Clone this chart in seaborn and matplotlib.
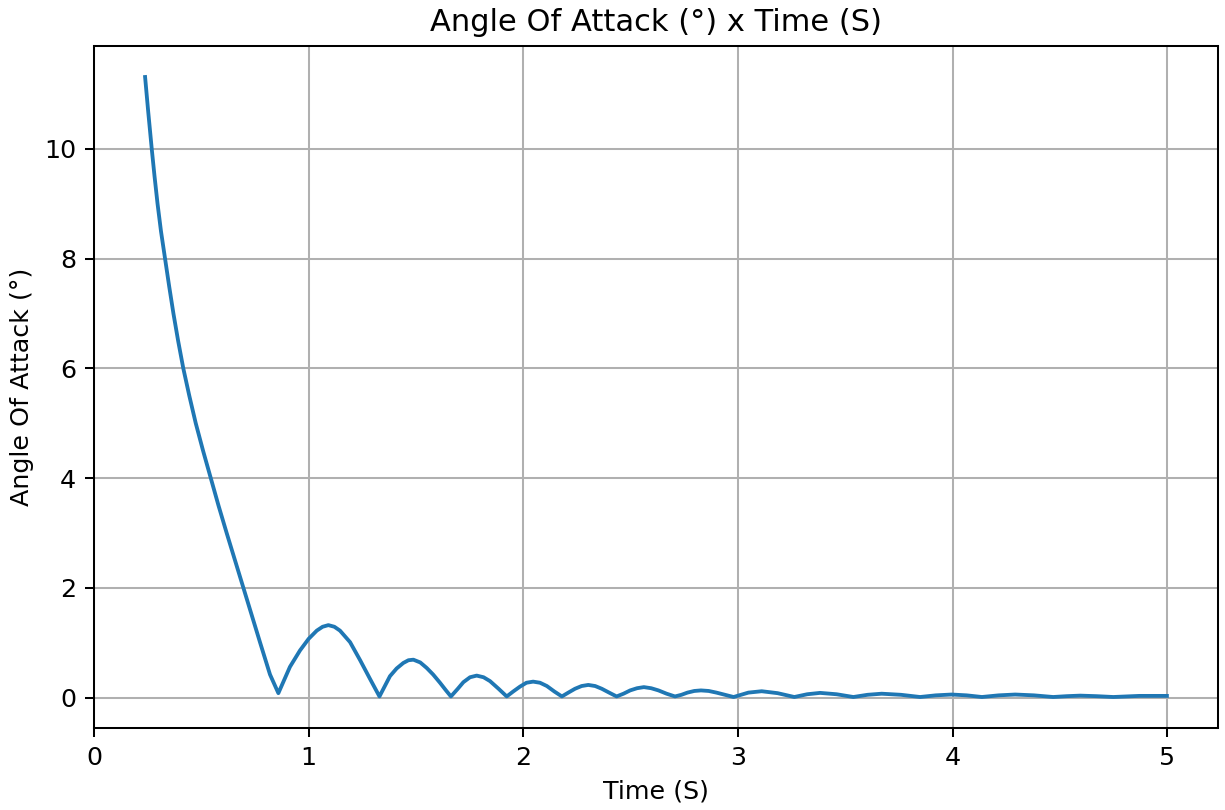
import matplotlib
matplotlib.use("Agg")
import matplotlib.pyplot as plt
import seaborn as sns
import pandas as pd

time_s = [0.238, 0.252, 0.269, 0.282, 0.296, 0.312, 0.331, 0.350, 0.370, 0.392, 0.416, 0.444, 0.474, 0.508, 0.544,
          0.580, 0.618, 0.657, 0.696, 0.735, 0.774, 0.820, 0.859,
          0.913, 0.960, 1.000, 1.038, 1.065, 1.092, 1.120, 1.146, 1.193, 1.240, 1.286, 1.330,
          1.379, 1.410, 1.441, 1.465, 1.488, 1.520, 1.550, 1.580, 1.612, 1.640, 1.663,
          1.695, 1.721, 1.752, 1.783, 1.815, 1.845, 1.885, 1.923,
          1.953, 1.985, 2.015, 2.046, 2.078, 2.110, 2.145, 2.180,
          2.210, 2.241, 2.272, 2.303, 2.335, 2.366, 2.400, 2.435,
          2.467, 2.498, 2.530, 2.562, 2.596, 2.630, 2.668, 2.707,
          2.737, 2.765, 2.797, 2.828, 2.864, 2.900, 2.940, 2.980,
          3.049, 3.111, 3.185, 3.263,
          3.323, 3.383, 3.460, 3.538,
          3.604, 3.670, 3.760, 3.849,
          3.922, 3.996, 4.066, 4.137,
          4.215, 4.292, 4.380, 4.469,
          4.532, 4.595, 4.672, 4.749,
          4.870, 4.999]
aoa_deg = [11.31, 10.7, 10.0, 9.5, 9.0, 8.5, 8.0, 7.5, 7.0, 6.5, 6.0, 5.5, 5.0, 4.5, 4.0,
           3.5, 3.0, 2.5, 2.0, 1.5, 1.0, 0.42, 0.08,
           0.56, 0.86, 1.07, 1.22, 1.29, 1.32, 1.29, 1.22, 1.01, 0.68, 0.34, 0.02,
           0.39, 0.53, 0.63, 0.68, 0.69, 0.64, 0.54, 0.42, 0.27, 0.13, 0.02,
           0.16, 0.28, 0.37, 0.40, 0.37, 0.30, 0.16, 0.02,
           0.11, 0.20, 0.27, 0.29, 0.27, 0.21, 0.11, 0.02,
           0.09, 0.16, 0.21, 0.23, 0.21, 0.16, 0.09, 0.02,
           0.07, 0.13, 0.17, 0.19, 0.17, 0.13, 0.07, 0.02,
           0.05, 0.09, 0.12, 0.13, 0.12, 0.09, 0.05, 0.01,
           0.09, 0.115, 0.08, 0.01,
           0.06, 0.085, 0.06, 0.01,
           0.05, 0.07, 0.05, 0.01,
           0.04, 0.055, 0.04, 0.01,
           0.04, 0.055, 0.04, 0.01,
           0.025, 0.035, 0.025, 0.01,
           0.03, 0.03]

df = pd.DataFrame({"Time (S)": time_s, "Angle Of Attack (°)": aoa_deg})

DPI = 183
fig, ax = plt.subplots(figsize=(1225 / DPI, 810 / DPI), dpi=DPI)
sns.lineplot(data=df, x="Time (S)", y="Angle Of Attack (°)", ax=ax,
             color="#1f77b4", linewidth=1.5, sort=False)
ax.grid(True)
ax.set_title("Angle Of Attack (°) x Time (S)")
ax.set_xlabel("Time (S)")
ax.set_ylabel("Angle Of Attack (°)")
fig.subplots_adjust(left=94 / 1225, right=1218 / 1225, top=1 - 46 / 810, bottom=1 - 728 / 810)
fig.savefig("out.png", dpi=DPI)
